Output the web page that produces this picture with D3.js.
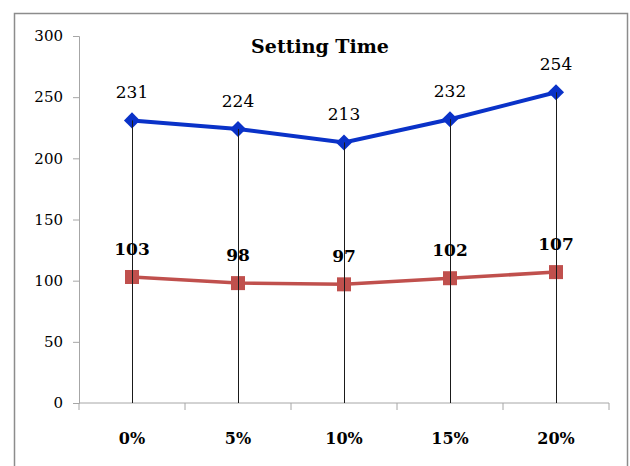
<!DOCTYPE html>
<html>
<head>
<meta charset="utf-8">
<script src="https://cdn.jsdelivr.net/npm/d3@7"></script>
<style>
  body { margin: 0; background: #fff; }
  text { font-family: "DejaVu Serif", serif; }
</style>
</head>
<body>
<div id="chart"></div>
<script>
// data
const categories = ['0%', '5%', '10%', '15%', '20%']
const seriesTop = [231, 224, 213, 232, 254]
const seriesBottom = [103, 98, 97, 102, 107]
const yTicks = [0, 50, 100, 150, 200, 250, 300]

const width = 630, height = 466
const margin = { left: 79, right: 21, top: 36, bottom: 63 }

const svg = d3.select('#chart')
  .append('svg')
    .attr('width', width)
    .attr('height', height)

// outer frame
svg.append('rect')
    .attr('x', 14.5)
    .attr('y', 13.5)
    .attr('width', 613)
    .attr('height', 470)
    .attr('fill', 'none')
    .attr('stroke', '#8c8c8c')
    .attr('stroke-width', 1.5)

const x = d3.scaleBand()
    .domain(categories)
    .range([margin.left, width - margin.right])

const y = d3.scaleLinear()
    .domain([0, 300])
    .range([height - margin.bottom, margin.top])

// y axis
const yAxis = d3.axisLeft(y)
    .tickValues(yTicks)
    .tickSize(6)
    .tickPadding(10)
const gy = svg.append('g')
    .attr('transform', `translate(${margin.left},0)`)
    .call(yAxis)
gy.select('.domain').attr('stroke', '#a6a6a6')
gy.selectAll('.tick line').attr('stroke', '#a6a6a6')
gy.selectAll('.tick text')
    .attr('font-size', 15)
    .attr('fill', '#000')
    .style('font-family', '"DejaVu Serif", serif')

// x axis, ticks at band edges
const gx = svg.append('g')
    .attr('transform', `translate(0,${y(0)})`)
gx.append('line')
    .attr('x1', margin.left)
    .attr('x2', width - margin.right)
    .attr('stroke', '#a6a6a6')
gx.selectAll('line.edge')
  .data(categories.concat(['end']))
  .join('line')
    .attr('class', 'edge')
    .attr('x1', (d, i) => i < categories.length ? x(d) : x.range()[1])
    .attr('x2', (d, i) => i < categories.length ? x(d) : x.range()[1])
    .attr('y1', 0)
    .attr('y2', 7)
    .attr('stroke', '#a6a6a6')
gx.selectAll('text.cat')
  .data(categories)
  .join('text')
    .attr('class', 'cat')
    .text(d => d)
    .attr('x', d => x(d) + x.bandwidth() / 2)
    .attr('y', 41)
    .attr('text-anchor', 'middle')
    .attr('font-size', 16)
    .attr('font-weight', 'bold')

const cx = (d, i) => x(categories[i]) + x.bandwidth() / 2

const line = d3.line()
    .x(cx)
    .y(d => y(d))

// bottom series (red squares)
svg.append('path')
    .datum(seriesBottom)
    .attr('d', line)
    .attr('fill', 'none')
    .attr('stroke', '#c0504d')
    .attr('stroke-width', 3.5)
svg.selectAll('rect.mark')
  .data(seriesBottom)
  .join('rect')
    .attr('class', 'mark')
    .attr('x', (d, i) => cx(d, i) - 7)
    .attr('y', d => y(d) - 7)
    .attr('width', 14)
    .attr('height', 14)
    .attr('fill', '#c0504d')

// top series (blue diamonds)
svg.append('path')
    .datum(seriesTop)
    .attr('d', line)
    .attr('fill', 'none')
    .attr('stroke', '#0a32c8')
    .attr('stroke-width', 4)
svg.selectAll('path.diamond')
  .data(seriesTop)
  .join('path')
    .attr('class', 'diamond')
    .attr('d', d3.symbol(d3.symbolDiamond2, 165))
    .attr('transform', (d, i) => `translate(${cx(d, i)},${y(d)})`)
    .attr('fill', '#0a32c8')

// drop lines, drawn over the markers like the original
svg.selectAll('line.drop')
  .data(seriesTop)
  .join('line')
    .attr('class', 'drop')
    .attr('x1', (d, i) => cx(d, i) + 0.5)
    .attr('x2', (d, i) => cx(d, i) + 0.5)
    .attr('y1', d => y(d))
    .attr('y2', y(0))
    .attr('stroke', '#1a1a1a')
    .attr('stroke-width', 1)

// data labels
svg.selectAll('text.lblTop')
  .data(seriesTop)
  .join('text')
    .attr('class', 'lblTop')
    .text(d => d)
    .attr('x', cx)
    .attr('y', d => y(d) - 22)
    .attr('text-anchor', 'middle')
    .attr('font-size', 17)
svg.selectAll('text.lblBot')
  .data(seriesBottom)
  .join('text')
    .attr('class', 'lblBot')
    .text(d => d)
    .attr('x', cx)
    .attr('y', d => y(d) - 22)
    .attr('text-anchor', 'middle')
    .attr('font-size', 17)
    .attr('font-weight', 'bold')

// title
svg.append('text')
    .text('Setting Time')
    .attr('x', 320)
    .attr('y', 53)
    .attr('text-anchor', 'middle')
    .attr('font-size', 19)
    .attr('font-weight', 'bold')
</script>
</body>
</html>
